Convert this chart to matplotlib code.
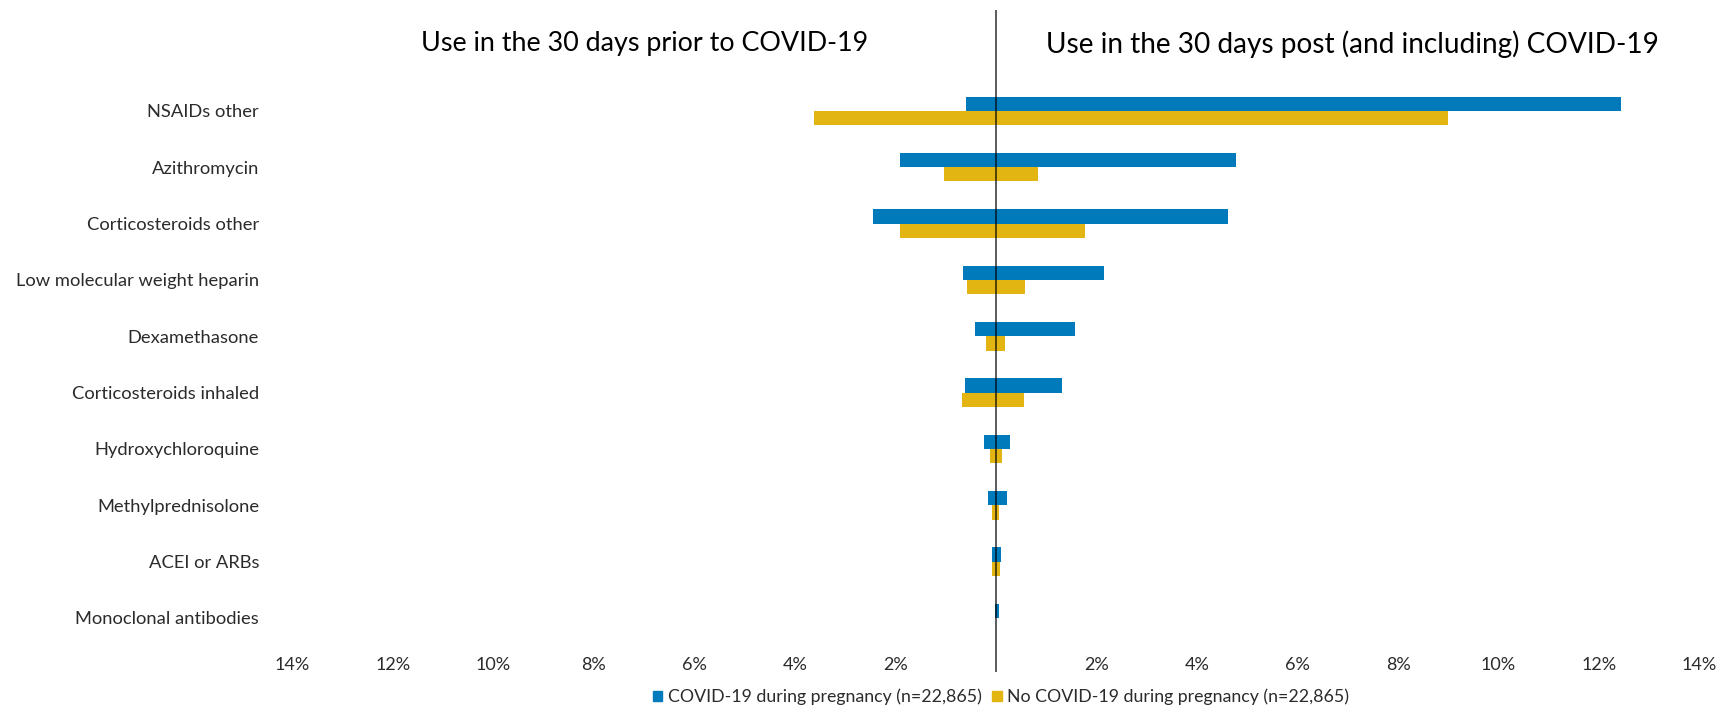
"""
Butterfly bar chart: medication use before / after COVID-19 in pregnancy
"""

import numpy as np
import matplotlib
matplotlib.use('Agg')
import matplotlib.pyplot as plt
from matplotlib.patches import Patch

plt.rcParams['font.family'] = ['Lato', 'DejaVu Sans']

# Data (percent of patients); negative = prior to COVID-19, positive = post
drugs = ['NSAIDs other', 'Azithromycin', 'Corticosteroids other',
         'Low molecular weight heparin', 'Dexamethasone',
         'Corticosteroids inhaled', 'Hydroxychloroquine',
         'Methylprednisolone', 'ACEI or ARBs', 'Monoclonal antibodies']
covid_prior = [0.59, 1.90, 2.44, 0.65, 0.41, 0.62, 0.23, 0.16, 0.08, 0.01]
covid_post = [12.44, 4.77, 4.62, 2.14, 1.57, 1.31, 0.27, 0.21, 0.11, 0.06]
nocovid_prior = [3.62, 1.03, 1.90, 0.57, 0.20, 0.67, 0.12, 0.08, 0.08, 0.0]
nocovid_post = [9.00, 0.84, 1.77, 0.58, 0.18, 0.55, 0.13, 0.06, 0.09, 0.0]
xticks = [-14, -12, -10, -8, -6, -4, -2, 2, 4, 6, 8, 10, 12, 14]

blue = '#007ABA'
yellow = '#E3B512'
text_color = '#2B2B2B'

fig = plt.figure(figsize=(17.27, 7.13), dpi=100)
ax = fig.add_axes([0.1693, 0.0575, 0.8148, 0.9285])

y = np.arange(len(drugs))
h = 0.254

ax.barh(y - h / 2, -np.array(covid_prior), height=h, color=blue)
ax.barh(y - h / 2, covid_post, height=h, color=blue)
ax.barh(y + h / 2, -np.array(nocovid_prior), height=h, color=yellow)
ax.barh(y + h / 2, nocovid_post, height=h, color=yellow)

ax.axvline(0, color='black', alpha=0.75, linewidth=1.2, zorder=5)

ax.set_xlim(-14, 14)
ax.set_ylim(9.96, -1.79)

ax.set_yticks(y)
ax.set_yticklabels(drugs, fontsize=13.2, color=text_color)
ax.tick_params(axis='y', length=0, pad=24)

ax.set_xticks(xticks)
ax.set_xticklabels(['%d%%' % abs(t) for t in xticks], fontsize=13, color=text_color)
ax.tick_params(axis='x', length=0, pad=-10.5)

for s in ax.spines.values():
    s.set_visible(False)

ax.text(0.25, 0.949, 'Use in the 30 days prior to COVID-19', transform=ax.transAxes,
        ha='center', va='center', fontsize=19.4, color='black')
ax.text(0.7535, 0.949, 'Use in the 30 days post (and including) COVID-19', transform=ax.transAxes,
        ha='center', va='center', fontsize=20.2, color='black')

handles = [Patch(color=blue, label='COVID-19 during pregnancy (n=22,865)'),
           Patch(color=yellow, label='No COVID-19 during pregnancy (n=22,865)')]
fig.legend(handles=handles, loc='center', bbox_to_anchor=(1001 / 1727, 1 - 697 / 713),
           ncol=2, frameon=False, fontsize=12.8, handlelength=0.55, handleheight=0.55,
           handletextpad=0.3, columnspacing=0.6, labelcolor=text_color)

plt.savefig('out.png', dpi=100)
